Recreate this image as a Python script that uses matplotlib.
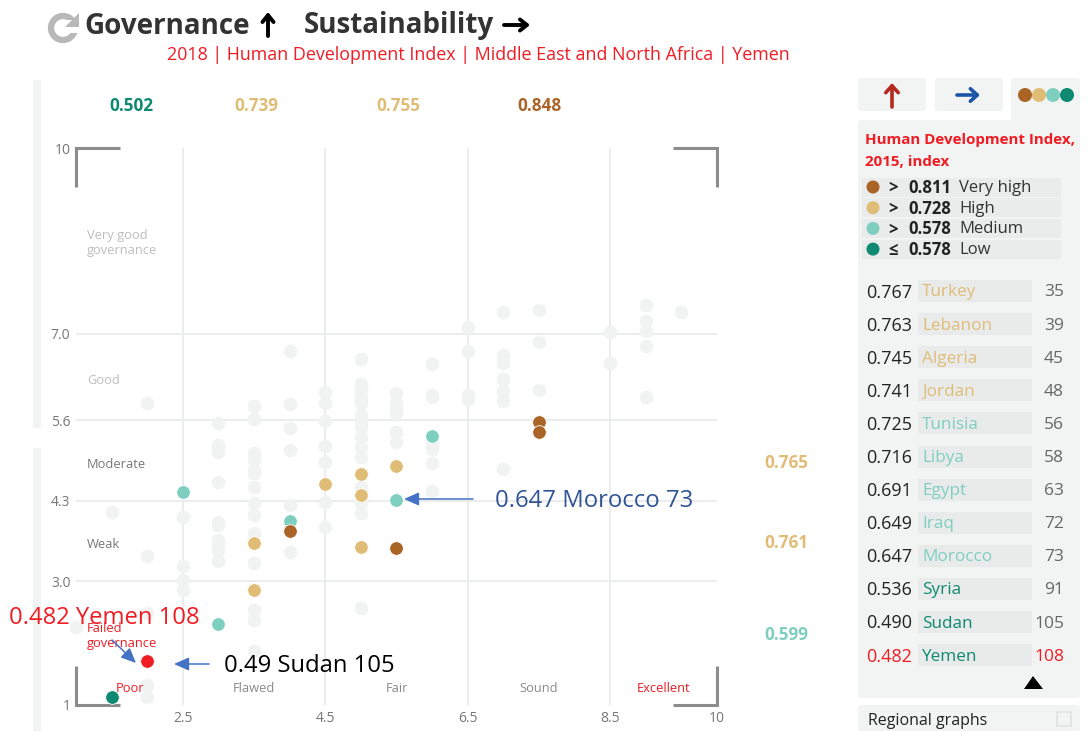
import numpy as np
import matplotlib
matplotlib.use('Agg')
import matplotlib.pyplot as plt
from matplotlib.patches import FancyBboxPatch, Rectangle

# Scatter values (sustainability, governance)
other_x = [1, 1.5, 2, 2, 2, 2, 2, 2.5, 2.5, 2.5, 2.5,
           3, 3, 3, 3, 3, 3, 3, 3, 3, 3,
           3.5, 3.5, 3.5, 3.5, 3.5, 3.5, 3.5, 3.5, 3.5, 3.5, 3.5, 3.5, 3.5, 3.5,
           4, 4, 4, 4, 4, 4,
           4.5, 4.5, 4.5, 4.5, 4.5, 4.5, 4.5,
           5, 5, 5, 5, 5, 5, 5, 5, 5, 5, 5, 5, 5, 5, 5,
           5.5, 5.5, 5.5, 5.5, 5.5, 5.5,
           6, 6, 6, 6, 6, 6, 6, 6,
           6.5, 6.5, 6.5, 6.5,
           7, 7, 7, 7, 7, 7, 7,
           7.5, 7.5, 7.5, 8.5, 8.5,
           9, 9, 9, 9, 9, 9.5]
other_y = [2.26, 4.12, 5.88, 3.41, 2.49, 1.32, 1.13, 4.04, 3.25, 3.02, 2.86,
           5.56, 5.20, 5.09, 4.60, 3.96, 3.91, 3.67, 3.62, 3.50, 3.33,
           5.83, 5.62, 5.07, 4.96, 4.80, 4.75, 4.52, 4.26, 4.07, 3.78, 3.29, 2.53, 2.37, 1.87,
           6.72, 5.86, 5.47, 5.12, 4.23, 3.47,
           6.06, 5.88, 5.59, 5.18, 4.93, 4.28, 3.88,
           6.59, 6.19, 6.09, 5.98, 5.88, 5.68, 5.60, 5.49, 5.33, 5.17, 5.01, 4.52, 4.26, 4.10, 2.57,
           6.04, 5.88, 5.80, 5.72, 5.41, 5.25,
           6.51, 6.01, 5.98, 5.26, 5.13, 4.91, 4.46, 5.20,
           7.11, 6.72, 6.01, 5.94,
           7.35, 6.65, 6.52, 6.27, 6.07, 5.91, 4.81,
           7.38, 6.86, 6.09, 7.03, 6.52,
           7.46, 7.20, 7.04, 6.80, 5.98, 7.35]

medium_x = [2.5, 6, 5.5, 4, 3]
medium_y = [4.44, 5.35, 4.31, 3.97, 2.31]
high_x = [5.5, 5, 5, 4.5, 3.5, 5, 3.5]
high_y = [4.86, 4.73, 4.39, 4.57, 3.62, 3.55, 2.86]
very_high_x = [7.5, 7.5, 5.5, 4]
very_high_y = [5.57, 5.41, 3.54, 3.81]
low_x = [1.5]
low_y = [1.13]
yemen_x = [2]
yemen_y = [1.71]

x_ticks = [2.5, 4.5, 6.5, 8.5]
y_ticks = [3.0, 4.3, 5.6, 7.0]

top_values = ['0.502', '0.739', '0.755', '0.848']
right_values = ['0.765', '0.761', '0.599']
band_labels = ['Very good\ngovernance', 'Good', 'Moderate', 'Weak']
bottom_labels = ['Flawed', 'Fair', 'Sound']

legend_signs = ['>', '>', '>', '≤']
legend_values = ['0.811', '0.728', '0.578', '0.578']
legend_names = ['Very high', 'High', 'Medium', 'Low']

list_values = ['0.767', '0.763', '0.745', '0.741', '0.725', '0.716',
               '0.691', '0.649', '0.647', '0.536', '0.490', '0.482']
list_names = ['Turkey', 'Lebanon', 'Algeria', 'Jordan', 'Tunisia', 'Libya',
              'Egypt', 'Iraq', 'Morocco', 'Syria', 'Sudan', 'Yemen']
list_ranks = [35, 39, 45, 48, 56, 58, 63, 72, 73, 91, 105, 108]

BROWN = '#a96426'
GOLD = '#e0bd77'
TEAL = '#7fcfc0'
GREEN = '#0f8a72'
RED = '#f01c24'
GRAY_DOT = '#f1f3f3'
GRID = '#e9ecec'
PANEL = '#f2f4f4'
name_colors = [GOLD] * 4 + [TEAL] * 5 + [GREEN] * 3

plt.rcParams['font.family'] = ['Open Sans', 'DejaVu Sans']
W, H = 1088, 731
fig = plt.figure(figsize=(W / 100, H / 100), dpi=100)

# main plot: x 1..10 is px 76..717, y 1..10 is px 705..148
ax = fig.add_axes([76 / W, 1 - 705 / H, (717 - 76) / W, (705 - 148) / H])
ax.set_xlim(1, 10)
ax.set_ylim(1, 10)
ax.patch.set_alpha(0)
for s in ax.spines.values():
    s.set_visible(False)
ax.tick_params(length=0, labelsize=10, labelcolor='#777777', pad=4)
ax.set_xticks(x_ticks + [10])
ax.set_xticklabels(['2.5', '4.5', '6.5', '8.5', '10'])
ax.set_yticks([1] + y_ticks + [10])
ax.set_yticklabels(['1', '3.0', '4.3', '5.6', '7.0', '10'])
for v in x_ticks:
    ax.axvline(v, color=GRID, lw=1.3, zorder=1)
for v in y_ticks:
    ax.axhline(v, color=GRID, lw=1.3, zorder=1)

# corner brackets
bx, by = 0.62, 0.63
br = dict(color='#8c8c8c', lw=2.2, solid_capstyle='butt', solid_joinstyle='miter', clip_on=False, zorder=2)
ax.plot([1, 1, 1 + bx], [10 - by, 10, 10], **br)
ax.plot([10 - bx, 10, 10], [10, 10, 10 - by], **br)
ax.plot([1, 1, 1 + bx], [1 + by, 1, 1], **br)
ax.plot([10 - bx, 10, 10], [1, 1, 1 + by], **br)

dot = dict(s=96, clip_on=False, linewidths=0.6, edgecolors='white', zorder=3)
ax.scatter(other_x, other_y, color=GRAY_DOT, s=96, clip_on=False, linewidths=0, zorder=3)
ax.scatter(medium_x, medium_y, color=TEAL, **dot)
ax.scatter(high_x, high_y, color=GOLD, **dot)
ax.scatter(very_high_x, very_high_y, color=BROWN, **dot)
ax.scatter(low_x, low_y, color=GREEN, **dot)
ax.scatter(yemen_x, yemen_y, color=RED, **dot)

# overlay in pixel coordinates for everything around and over the plot
bg = fig.add_axes([0, 0, 1, 1], zorder=5)
bg.set_xlim(0, W)
bg.set_ylim(H, 0)
bg.axis('off')

# left side bars
bg.add_patch(Rectangle((33, 80), 8, 348, color=PANEL, lw=0))
bg.add_patch(Rectangle((33, 448), 8, 283, color=PANEL, lw=0))

# title
bg.add_patch(plt.Circle((63, 28), 12, fill=False, ec='#b8b8b8', lw=4.5))
bg.add_patch(Rectangle((65, 20), 15, 13, color='white', lw=0))
bg.fill([65, 79, 79], [27, 27, 13], color='#b8b8b8', lw=0)
title = dict(weight='bold', fontsize=20, color='#333333', va='center', ha='left')
bg.text(84, 26, 'Governance', **title)
bg.text(304, 26, 'Sustainability', **title)
black = dict(arrowstyle='->,head_width=0.4,head_length=0.5', lw=2.8, color='black', shrinkA=0, shrinkB=0)
bg.annotate('', xy=(268, 12), xytext=(268, 36), arrowprops=black)
bg.annotate('', xy=(530, 25), xytext=(504, 25), arrowprops=black)
bg.text(167, 55, '2018 | Human Development Index | Middle East and North Africa | Yemen',
        color=RED, fontsize=12.85, va='center', ha='left')

# values above and right of the plot
for x0, t, c in zip([131, 256, 398, 540], top_values, [GREEN, GOLD, GOLD, BROWN]):
    bg.text(x0, 106, t, color=c, fontsize=12.3, weight='bold', ha='center', va='center')
for y0, t, c in zip([463, 543, 635], right_values, [GOLD, GOLD, TEAL]):
    bg.text(786, y0, t, color=c, fontsize=12.3, weight='bold', ha='center', va='center')

# band labels inside the plot
for y0, t, c in zip([243, 380, 464, 544], band_labels, ['#bdbdbd', '#bdbdbd', '#777777', '#777777']):
    bg.text(87, y0, t, color=c, fontsize=9.3, ha='left', va='center', linespacing=1.25)
for x0, t in zip([254, 397, 539], bottom_labels):
    bg.text(x0, 688, t, color='#8a8a8a', fontsize=9.3, ha='center', va='center')
bg.text(130, 688, 'Poor', color=RED, fontsize=9.3, ha='center', va='center')
bg.text(664, 688, 'Excellent', color=RED, fontsize=9.3, ha='center', va='center')
bg.text(87, 636, 'Failed\ngovernance', color=RED, fontsize=9.3, ha='left', va='center', linespacing=1.25)

# callouts
bg.text(9, 618, '0.482 Yemen 108', color=RED, fontsize=17.1, ha='left', va='center')
bg.text(224, 666, '0.49 Sudan 105', color='black', fontsize=17.1, ha='left', va='center')
bg.text(495, 501, '0.647 Morocco 73', color='#2f5597', fontsize=17.2, ha='left', va='center')
arrow = dict(arrowstyle='-|>,head_width=0.4,head_length=0.9', color='#4472c4', lw=1.1, shrinkA=0, shrinkB=0)
bg.annotate('', xy=(404, 499), xytext=(473, 499), arrowprops=arrow)
bg.annotate('', xy=(174, 664), xytext=(209, 664), arrowprops=arrow)
bg.annotate('', xy=(136, 663), xytext=(112, 640), arrowprops=arrow)

# right panel
def box(x, y, w, h, color=PANEL, r=3):
    bg.add_patch(FancyBboxPatch((x + r, y + r), w - 2 * r, h - 2 * r, boxstyle='round,pad=%d' % r,
                                fc=color, ec='none', lw=0))

box(858, 78, 68, 33)
box(935, 78, 68, 33)
box(1011, 78, 69, 45)
box(858, 120, 222, 578)
bg.annotate('', xy=(892, 83), xytext=(892, 107), arrowprops=dict(arrowstyle='->,head_width=0.45,head_length=0.5', lw=2.6, color='#b5291f', shrinkA=0, shrinkB=0))
bg.annotate('', xy=(980, 95), xytext=(957, 95), arrowprops=dict(arrowstyle='->,head_width=0.45,head_length=0.5', lw=2.6, color='#1c55a8', shrinkA=0, shrinkB=0))
for x0, c in zip([1025, 1039, 1053, 1067], [BROWN, GOLD, TEAL, GREEN]):
    bg.add_patch(plt.Circle((x0, 95), 7, color=c, lw=0))

bg.text(865, 151, 'Human Development Index,\n2015, index', color=RED, fontsize=10.9, weight='bold',
        ha='left', va='center', linespacing=1.65)
for i, c in enumerate([BROWN, GOLD, TEAL, GREEN]):
    y0 = 187 + i * 20.7
    bg.add_patch(Rectangle((862, y0 - 9.5), 199, 19, color='#eaecec', lw=0))
    bg.add_patch(plt.Circle((873, y0), 6.5, color=c, lw=0))
    bg.text(893, y0 + 1, legend_signs[i], fontsize=12, weight='bold', color='#222222', ha='center', va='center')
    bg.text(908, y0 + 1, legend_values[i], fontsize=12, weight='bold', color='#222222', ha='left', va='center')
    bg.text(959, y0 + 1, legend_names[i], fontsize=12, color='#333333', ha='left', va='center')

for i in range(len(list_names)):
    y0 = 291 + i * 33.1
    last = i == len(list_names) - 1
    bg.add_patch(Rectangle((918, y0 - 11), 114, 22, color='#e9ebeb', lw=0))
    bg.text(866, y0 + 1.5, list_values[i], fontsize=13, color=RED if last else '#222222', ha='left', va='center')
    bg.text(922, y0 + 1.5, list_names[i], fontsize=12.3, color=name_colors[i], ha='left', va='center')
    bg.text(1064, y0 + 1.5, str(list_ranks[i]), fontsize=12.5, color=RED if last else '#666666', ha='right', va='center')

bg.fill([1024, 1033, 1043], [689, 676, 689], color='black', lw=0)

box(858, 705, 222, 26)
bg.text(868, 721, 'Regional graphs', fontsize=11.5, color='#222222', ha='left', va='center')
bg.add_patch(Rectangle((1057, 712), 14, 14, fc='none', ec='#e0e3e3', lw=1.2))

plt.savefig('out.png', dpi=100)
